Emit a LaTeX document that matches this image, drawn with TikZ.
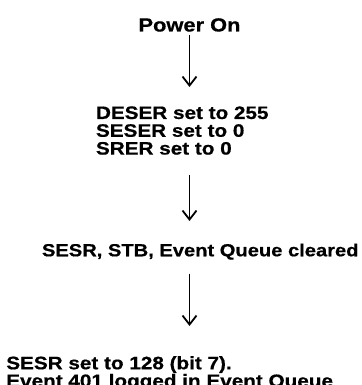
\documentclass[tikz,border=0pt]{standalone}
\usepackage{fontspec}
\setmainfont{Liberation Sans}[FakeStretch=1.15,BoldFeatures={FakeBold=0.6}]
\usetikzlibrary{arrows.meta}
\begin{document}
\begin{tikzpicture}[x=1pt,y=-1pt,
  lbl/.style={inner sep=0pt, outer sep=0pt, align=left, font=\bfseries\fontsize{18}{17.8}\selectfont},
  arr/.style={line width=1.8pt, -{Straight Barb[length=9pt,width=14pt,line width=1.8pt]}}]
\useasboundingbox (0,0) rectangle (361,385);
\node[lbl, anchor=base, font=\bfseries\fontsize{19}{20}\selectfont] (power) at (189.5,31.5) {Power On};
\node[lbl, anchor=north west] (deser) at (96,106.4) {DESER set to 255\\SESER set to 0\\SRER set to 0};
\node[lbl, anchor=north west, font=\bfseries\fontsize{17.5}{17.5}\selectfont] (clear) at (42,243.6) {SESR, STB, Event Queue cleared};
\node[lbl, anchor=north west, font=\bfseries\fontsize{18}{14}\selectfont] (sesr) at (6.3,356.2) {SESR set to 128 (bit 7).\\Event 401 logged in Event Queue};
\coordinate (a1s) at ([yshift=-3.5pt]power.south);
\draw[arr] (a1s) -- (a1s |- 0,87);
\draw[arr] (power.south |- deser.south) ++(0,20) -- (power.south |- 0,221);
\draw[arr] (power.south |- clear.south) ++(0,14) -- (power.south |- 0,326);
\end{tikzpicture}
\end{document}
